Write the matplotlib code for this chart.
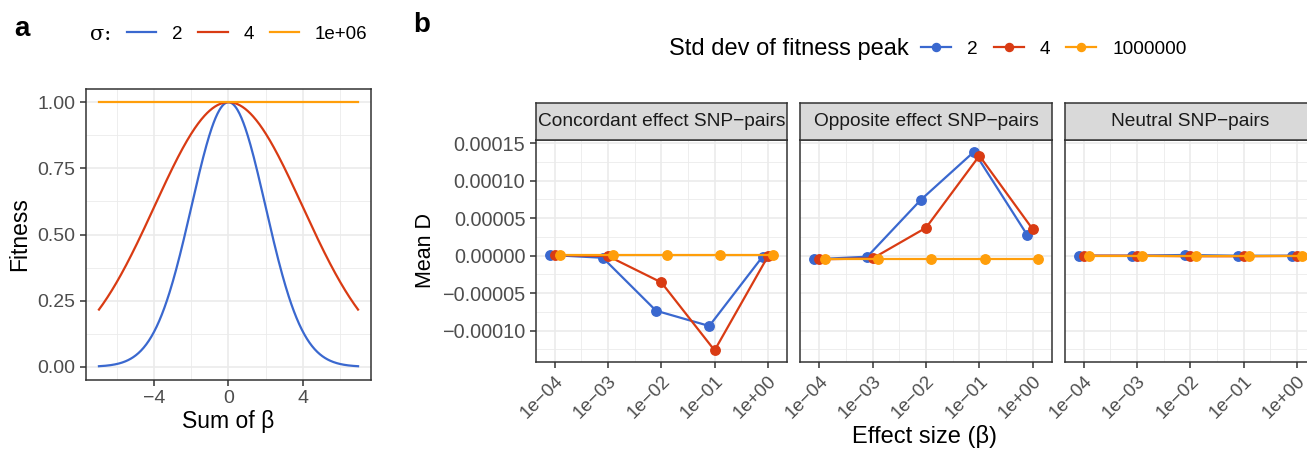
import numpy as np
import matplotlib
matplotlib.use("Agg")
import matplotlib.pyplot as plt
from matplotlib.lines import Line2D

plt.rcParams['font.family'] = ['Liberation Sans', 'DejaVu Sans']

# ---- data ----
sigmas = [2, 4, 1e6]
sigma_labels = ["2", "4", "1e+06"]
beta_min, beta_max = -7, 7

effect_sizes = [1e-4, 1e-3, 1e-2, 1e-1, 1e0]
effect_tick_labels = ["1e\u221204", "1e\u221203", "1e\u221202", "1e\u221201", "1e+00"]
facet_titles = ["Concordant effect SNP\u2212pairs", "Opposite effect SNP\u2212pairs", "Neutral SNP\u2212pairs"]
peak_labels = ["2", "4", "1000000"]

concordant_sd2 = [0.0000010, -0.0000027, -0.0000733, -0.0000937, -0.0000013]
concordant_sd4 = [0.0000010, -0.0000005, -0.0000356, -0.0001262, -0.0000010]
concordant_sd1e6 = [0.0000010, 0.0000010, 0.0000010, 0.0000010, 0.0000010]

opposite_sd2 = [-0.0000048, -0.0000013, 0.0000743, 0.0001387, 0.0000272]
opposite_sd4 = [-0.0000048, -0.0000036, 0.0000373, 0.0001333, 0.0000352]
opposite_sd1e6 = [-0.0000045, -0.0000045, -0.0000045, -0.0000045, -0.0000045]

neutral_sd2 = [0.0000000, 0.0000000, 0.0000010, 0.0000000, 0.0000000]
neutral_sd4 = [0.0000000, 0.0000000, -0.0000007, -0.0000007, -0.0000002]
neutral_sd1e6 = [0.0000000, 0.0000000, 0.0000000, 0.0000000, 0.0000000]

mean_d_ticks = [-0.0001, -0.00005, 0.0, 0.00005, 0.0001, 0.00015]
mean_d_labels = ["\u22120.00010", "\u22120.00005", "0.00000", "0.00005", "0.00010", "0.00015"]

facet_series = [
    [concordant_sd2, concordant_sd4, concordant_sd1e6],
    [opposite_sd2, opposite_sd4, opposite_sd1e6],
    [neutral_sd2, neutral_sd4, neutral_sd1e6],
]

# ---- styling ----
colors = ["#3A68CF", "#D93B13", "#FF9E0A"]
grid_c = "#EBEBEB"
border_c = "#333333"
tick_c = "#4D4D4D"

W, H = 1307, 453
fig = plt.figure(figsize=(W / 100, H / 100), dpi=100)


def frac(x0, y0, x1, y1):
    return [x0 / W, 1 - y1 / H, (x1 - x0) / W, (y1 - y0) / H]


def style_axes(ax):
    for s in ax.spines.values():
        s.set_color(border_c)
        s.set_linewidth(1.1)
    ax.set_facecolor("white")
    ax.tick_params(which="major", length=4, width=1.1, color=border_c, labelcolor=tick_c)
    ax.tick_params(which="minor", length=0)
    ax.grid(which="major", color=grid_c, linewidth=1.2, zorder=0)
    ax.grid(which="minor", color=grid_c, linewidth=0.6, zorder=0)
    ax.set_axisbelow(True)


# ---- panel a: fitness curves ----
axa = fig.add_axes(frac(86, 89, 371, 380))
style_axes(axa)
beta = np.linspace(beta_min, beta_max, 401)
for sd, c in zip(sigmas, colors):
    axa.plot(beta, np.exp(-beta ** 2 / (2 * sd ** 2)), color=c, lw=1.6, zorder=3)
axa.set_xlim(-7.7, 7.7)
axa.set_ylim(-0.0499, 1.0499)
axa.set_xticks([-4, 0, 4])
axa.set_xticklabels(["\u22124", "0", "4"])
axa.set_xticks([-6, -2, 2, 6], minor=True)
axa.set_yticks([0, 0.25, 0.5, 0.75, 1.0])
axa.set_yticklabels(["0.00", "0.25", "0.50", "0.75", "1.00"])
axa.set_yticks([0.125, 0.375, 0.625, 0.875], minor=True)
axa.tick_params(labelsize=14)
axa.set_xlabel("Sum of \u03b2", fontsize=16.5, labelpad=2)
axa.set_ylabel("Fitness", fontsize=16.5, labelpad=5)

fig.text(14 / W, 1 - 29 / H, "a", fontsize=20, fontweight="bold", va="center", ha="left")
fig.text(90 / W, 1 - 34 / H, "\u03c3:", fontsize=15, va="center", ha="left", family=["DejaVu Serif"])
handles_a = [Line2D([], [], color=c, lw=1.6) for c in colors]
fig.legend(handles_a, sigma_labels, loc="center left", bbox_to_anchor=(127 / W, 1 - 34 / H),
           ncol=3, frameon=False, fontsize=13.5, handlelength=1.55, handletextpad=0.85,
           columnspacing=0.85, borderaxespad=0, borderpad=0)

# ---- panel b: mean D by effect size ----
facet_x = [(535.7, 787.0), (800.0, 1052.0), (1064.7, 1316.0)]
plot_top, plot_bottom, strip_top = 140.0, 361.7, 103.0
offsets = [-0.1, 0.0, 0.1]
major_x = np.array(effect_sizes)
minor_x = 10 ** (np.log10(major_x[:-1]) + 0.5)

for i, ((x0, x1), title, series) in enumerate(zip(facet_x, facet_titles, facet_series)):
    ax = fig.add_axes(frac(x0, plot_top, x1, plot_bottom))
    style_axes(ax)
    ax.set_xscale("log")
    for vals, c, off in zip(series, colors, offsets):
        xs = np.array(effect_sizes) * 10 ** off
        ax.plot(xs, vals, color=c, lw=1.6, marker="o", markersize=6.8, zorder=3, clip_on=False)
    ax.set_xlim(10 ** -4.36, 10 ** 0.36)
    ax.set_ylim(-0.0001413, 0.0001543)
    ax.set_xticks(major_x)
    ax.set_xticklabels(effect_tick_labels, rotation=45, ha="right", va="top",
                       rotation_mode="anchor", fontsize=13.5)
    ax.set_xticks(minor_x, minor=True)
    ax.xaxis.set_minor_formatter(matplotlib.ticker.NullFormatter())
    ax.set_yticks(mean_d_ticks)
    ax.set_yticks([-0.000125, -0.000075, -0.000025, 0.000025, 0.000075, 0.000125], minor=True)
    if i == 0:
        ax.set_yticklabels(mean_d_labels, fontsize=14.3)
        ax.set_ylabel("Mean D", fontsize=15.5, labelpad=4)
    else:
        ax.set_yticklabels([])
        ax.tick_params(axis="y", which="major", length=0)
    # facet strip
    sax = fig.add_axes(frac(x0, strip_top, x1, plot_top))
    sax.set_xticks([])
    sax.set_yticks([])
    sax.set_facecolor("#D9D9D9")
    for s in sax.spines.values():
        s.set_color(border_c)
        s.set_linewidth(1.1)
    sax.text(0.5, 0.5, title, transform=sax.transAxes, ha="center", va="center",
             fontsize=13.8, color="#1A1A1A")

fig.text(925 / W, 1 - 437 / H, "Effect size (\u03b2)", fontsize=17, ha="center", va="center")
fig.text(413 / W, 1 - 25 / H, "b", fontsize=20, fontweight="bold", va="center", ha="left")
fig.text(669 / W, 1 - 49 / H, "Std dev of fitness peak", fontsize=17, va="center", ha="left")
handles_b = [Line2D([], [], color=c, lw=1.6, marker="o", markersize=5.8) for c in colors]
fig.legend(handles_b, peak_labels, loc="center left", bbox_to_anchor=(921 / W, 1 - 49 / H),
           ncol=3, frameon=False, fontsize=13.7, handlelength=1.58, handletextpad=0.84,
           columnspacing=0.84, borderaxespad=0, borderpad=0)

fig.savefig("out.png", dpi=100)
